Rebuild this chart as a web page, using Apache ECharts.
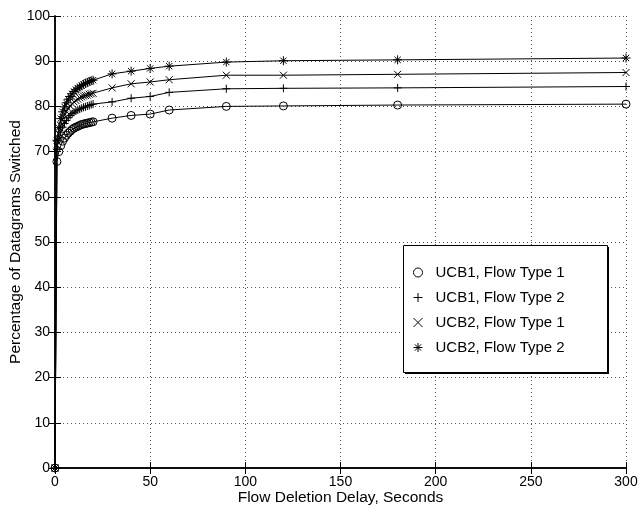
<!DOCTYPE html>
<html>
<head>
<meta charset="utf-8">
<script src="https://cdn.jsdelivr.net/npm/echarts@6/dist/echarts.min.js"></script>
<style>html,body{margin:0;padding:0;background:#fff}#c{width:640px;height:508px}</style>
</head>
<body>
<div id="c"></div>
<script>
var xValues = [0,1,2,3,4,5,6,7,8,9,10,11,12,13,14,15,16,17,18,19,20,30,40,50,60,90,120,180,300];
var ucb1Type1 = [0,67.8,70.0,71.3,72.3,73.0,73.6,74.1,74.5,74.9,75.2,75.4,75.6,75.8,76.0,76.1,76.2,76.3,76.4,76.5,76.6,77.4,78.0,78.3,79.2,80.0,80.1,80.3,80.5];
var ucb1Type2 = [0,70.5,72.8,74.3,75.4,76.2,76.9,77.5,78.0,78.4,78.7,79.0,79.2,79.4,79.6,79.8,79.9,80.1,80.2,80.4,80.5,81.0,81.8,82.2,83.1,83.9,84.0,84.1,84.4];
var ucb2Type1 = [0,71.5,74.0,75.8,77.1,78.1,78.9,79.5,80.1,80.6,81.0,81.3,81.6,81.9,82.1,82.3,82.4,82.5,82.7,82.8,82.9,84.1,85.0,85.4,85.9,86.9,86.9,87.1,87.5];
var ucb2Type2 = [0,72.5,75.3,77.3,78.8,79.9,80.8,81.6,82.2,82.8,83.3,83.7,84.0,84.3,84.6,84.9,85.1,85.3,85.5,85.7,85.8,87.2,87.8,88.4,88.9,89.8,90.1,90.3,90.7];
var seriesNames = ['UCB1, Flow Type 1','UCB1, Flow Type 2','UCB2, Flow Type 1','UCB2, Flow Type 2'];
var xTicks = [0,50,100,150,200,250,300];
var yTicks = [0,10,20,30,40,50,60,70,80,90,100];

var FONT = "'Liberation Sans', Arial, Helvetica, sans-serif";
var symPlus = 'path://M0,5L10,5M5,0L5,10';
var symX = 'path://M0,0L10,10M0,10L10,0';
var symStar = 'path://M0,5L10,5M5,0L5,10M1.5,1.5L8.5,8.5M1.5,8.5L8.5,1.5';
var symbols = ['circle', symPlus, symX, symStar];
var sizes = [8, 8, 7, 9];
var allData = [ucb1Type1, ucb1Type2, ucb2Type1, ucb2Type2];

function pairs(ys){ return xValues.map(function(x,i){ return [x, ys[i]]; }); }

var series = allData.map(function(ys, k){
  return {
    name: seriesNames[k],
    type: 'line',
    data: pairs(ys),
    symbol: symbols[k],
    symbolSize: sizes[k],
    showAllSymbol: true,
    animation: false,
    lineStyle: {color: '#000', width: 1},
    itemStyle: {color: 'rgba(0,0,0,0)', borderColor: '#000', borderWidth: 1},
    emphasis: {disabled: true},
    z: 3
  };
});

var chart = echarts.init(document.getElementById('c'), null, {renderer: 'canvas'});
var axisCommon = {
  axisLine: {show: true, lineStyle: {color: '#000', width: 1.5}},
  axisTick: {show: true, inside: true, length: 6, lineStyle: {color: '#000', width: 1}}
};
chart.setOption({
  animation: false,
  backgroundColor: '#fff',
  grid: {left: 55, right: 14, top: 16, bottom: 40, show: false, containLabel: false, outerBoundsMode: 'none'},
  xAxis: [
    Object.assign({
      type: 'value', min: 0, max: 300, interval: 50, position: 'bottom',
      name: 'Flow Deletion Delay, Seconds', nameLocation: 'middle', nameGap: 22, nameMoveOverlap: false,
      nameTextStyle: {color: '#000', fontSize: 15.5, fontFamily: FONT},
      axisLabel: {color: '#000', fontSize: 14, fontFamily: FONT, margin: 7,
        formatter: function(v){ return xTicks.indexOf(v) >= 0 ? String(v) : ''; }},
      splitLine: {show: true, lineStyle: {color: '#555', type: [1, 3], width: 1}}
    }, axisCommon),
    Object.assign({
      type: 'value', min: 0, max: 300, interval: 50, position: 'top',
      axisLabel: {show: false}, splitLine: {show: false}
    }, axisCommon)
  ],
  yAxis: [
    Object.assign({
      type: 'value', min: 0, max: 100, interval: 10, position: 'left',
      name: 'Percentage of Datagrams Switched', nameLocation: 'middle', nameGap: 31, nameMoveOverlap: false,
      nameTextStyle: {color: '#000', fontSize: 15.5, fontFamily: FONT},
      axisLabel: {color: '#000', fontSize: 14, fontFamily: FONT, margin: 5,
        formatter: function(v){ return yTicks.indexOf(v) >= 0 ? String(v) : ''; }},
      splitLine: {show: true, lineStyle: {color: '#555', type: [1, 3], width: 1}}
    }, axisCommon),
    Object.assign({
      type: 'value', min: 0, max: 100, interval: 10, position: 'right',
      axisLabel: {show: false}, splitLine: {show: false}
    }, axisCommon)
  ],
  legend: {
    orient: 'vertical',
    left: 413, top: 265,
    padding: 0,
    itemWidth: 25, itemHeight: 9, itemGap: 10,
    symbolKeepAspect: true,
    z: 101,
    selectedMode: false,
    textStyle: {color: '#000', fontSize: 15, fontFamily: FONT},
    itemStyle: {color: 'rgba(0,0,0,0)', borderColor: '#000', borderWidth: 1},
    data: seriesNames.map(function(n, k){
      return {name: n, icon: symbols[k]};
    })
  },
  graphic: [
    {type: 'rect', z: 99, left: 405, top: 247, shape: {width: 204, height: 127}, style: {fill: '#000'}},
    {type: 'rect', z: 100, left: 403, top: 245, shape: {width: 204, height: 127}, style: {fill: '#fff', stroke: '#000', lineWidth: 1}}
  ],
  series: series
});
</script>
</body>
</html>
